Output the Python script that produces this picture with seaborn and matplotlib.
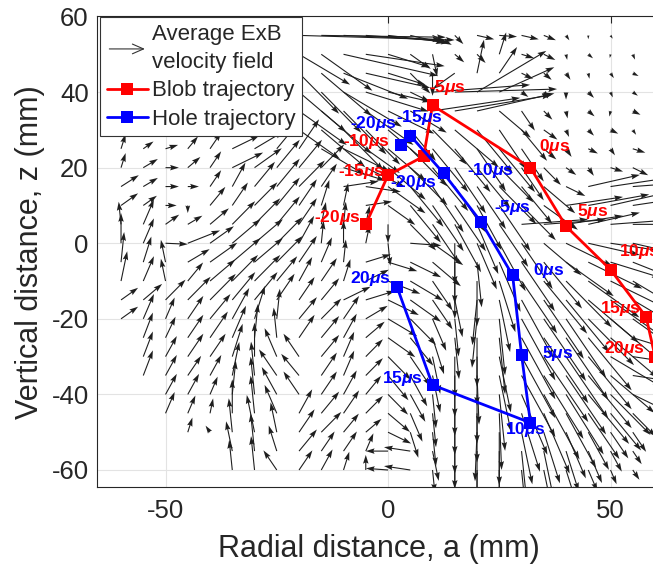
import numpy as np
import pandas as pd
import matplotlib
matplotlib.use("Agg")
import matplotlib.pyplot as plt
import seaborn as sns
from matplotlib.legend_handler import HandlerBase
from matplotlib.patches import FancyArrowPatch
from matplotlib.lines import Line2D

# ---------------- data ----------------
FIELD_X = list(range(-60, 61, 5))          # radial grid (mm)
FIELD_Y = list(range(55, -61, -5))         # vertical grid (mm), top row first

# arrow direction (deg, 0 = +x, 90 = +z) and arrow length (mm on plot), read row by row
FIELD_ANG = [
    [0,0,0,0,0,0,0,0,-2,-1,-3,-5,-8,-15,-30,-50,-15,-5,-15,-25,-60,-90,-60,0,0],
    [0,0,0,0,0,0,0,0,-35,-40,-15,-10,-20,-40,-80,-45,-50,75,-20,-30,-80,-45,-100,-70,-60],
    [0,0,0,0,0,0,0,0,-50,-45,-25,-15,-20,-50,-90,-140,80,60,-30,-45,-60,-80,-60,-30,-50],
    [0,0,0,0,0,0,0,0,-45,-50,-35,-20,-15,-30,5,2,35,28,-40,-60,-90,-50,-70,-40,-90],
    [0,0,0,0,0,0,0,0,-40,-45,-50,-40,-30,-35,10,11,15,-45,-60,-50,-80,-45,-100,-30,-60],
    [0,0,0,0,0,0,0,0,-40,-45,-50,-50,-45,-55,-50,-45,-55,-60,-55,-40,-70,-50,-30,-60,-45],
    [75,40,20,55,60,30,35,55,60,-35,-30,-40,-45,-50,-55,-55,-60,-55,-60,-45,-60,-30,-60,-20,-40],
    [75,35,0,45,60,30,40,55,55,50,-20,-30,-45,-50,-55,-60,-55,-50,-60,-50,-40,-60,-20,-30,-10],
    [37,35,0,0,60,65,55,55,50,60,10,-10,-40,-55,-60,-60,-60,-50,-55,-45,-30,15,10,5,0],
    [40,40,0,-90,55,60,50,55,60,75,80,10,-40,-55,-60,-60,-65,-60,-50,-40,10,12,15,10,5],
    [95,70,40,35,45,50,50,55,60,80,85,80,-90,-50,-60,-65,-70,-60,5,5,10,15,5,0,-10],
    [90,70,-3,25,40,45,45,50,65,85,90,80,-85,-5,-40,-90,-70,-65,-60,-45,-30,-15,-10,-15,-20],
    [85,75,100,35,40,45,45,50,60,70,85,20,-20,-30,-45,-90,-85,-70,-60,-55,-40,-30,-20,-25,-30],
    [80,70,100,55,45,50,50,55,65,60,75,30,-25,-35,-60,-90,-90,-75,-60,-55,-50,-40,-30,-35,-40],
    [40,45,50,50,50,55,55,60,60,55,30,20,-30,-40,-60,-80,-95,-80,-65,-60,-55,-45,-40,-35,-30],
    [40,70,70,60,55,65,75,85,55,50,60,35,-35,-50,-70,-85,-95,-85,-65,-60,-60,-50,-45,-40,-35],
    [0,72,68,60,60,70,85,95,60,55,65,45,-40,-55,-75,-85,-90,-85,-65,-60,-60,-55,-45,-20,-10],
    [0,72,65,60,60,75,90,110,120,55,70,50,-50,-60,-80,-90,-90,-80,-65,-60,-60,-55,-35,-10,-5],
    [0,72,65,60,65,80,95,120,125,60,70,50,-55,-65,-80,-90,-88,-80,-65,-62,-60,-55,-45,-10,0],
    [0,0,65,65,70,85,95,115,120,60,65,55,-50,-65,-85,-90,-90,-85,-70,-65,-62,-55,-50,-30,-20],
    [0,0,70,70,80,90,95,110,65,55,60,50,-45,-70,-85,-90,-90,-88,-75,-70,-65,-60,-55,-50,-40],
    [0,0,0,75,120,95,100,100,60,50,55,45,-30,-75,-85,-90,-92,-90,-80,-75,-70,-65,-60,-60,-50],
    [0,0,0,0,0,100,95,105,55,60,60,70,180,170,-80,-90,-90,-90,-85,-80,-75,-70,-65,-60,-60],
    [0,0,0,0,0,95,95,120,60,65,75,90,175,170,-85,-90,-90,-90,-85,-80,-75,-70,-70,-60,-60],
]
FIELD_LEN = [
    [0,0,0,0,0,0,0,0,35,28,22,18,14,8,5,3,4,4,4,3,1.5,1,1,0,0],
    [0,0,0,0,0,0,0,0,14,15,22,18,10,6,6,3,3,6,3,3,1.5,1.5,1,1.5,1],
    [0,0,0,0,0,0,0,0,14,16,16,15,9,7,6,6.5,9,8,3,2.5,2,1.5,1.5,1.5,1],
    [0,0,0,0,0,0,0,0,15,14,16,15,10,5,22,23,19,14,2,2,2,2,1.5,1.5,1.5],
    [0,0,0,0,0,0,0,0,14,16,15,14,12,10,20,22,18,10,6,3,2,2,1.5,2,1.5],
    [0,0,0,0,0,0,0,0,12,14,14,12,12,10,12,14,14,12,10,4,2,2,2,1.5,1.5],
    [4,3,3,4,5,7,8,9,9,12,12,10,12,13,14,14,13,14,10,4,2.5,2.5,2,3,2],
    [4,4,3,4,5,8,8,9,9,8,10,10,12,13,14,14,13,12,10,6,3,2.5,3,4,4],
    [5,4,3,2.5,5,7,8,9,9,7,8,8,11,13,14,14,13,13,12,10,5,12,12,10,8],
    [5,4,2.5,2,6,7,8,9,8,7,6,6,8,12,14,14,13,14,12,10,13,14,12,10,8],
    [6,7,4,4,6,8,9,9,8,6,6,5,5,9,12,14,14,13,15,14,13,12,13,10,8],
    [8,7,5,8,7,9,9,9,8,6,6,5,6,7,9,11,13,14,14,12,12,12,13,12,10],
    [8,7,6,6,8,9,9,9,8,7,6,6,7,8,9,11,12,14,15,15,14,14,12,12,10],
    [8,7,6,6,8,9,9,8,7,7,6,6,8,9,9,10,12,14,16,17,16,15,14,13,12],
    [5,6,7,8,9,9,9,8,7,7,7,7,8,9,9,10,12,14,17,18,17,16,15,14,12],
    [5,7,6,7,8,9,9,8,7,7,7,6,8,9,9,10,13,15,18,19,18,16,15,14,12],
    [0,7,6,7,8,9,9,8,7,7,7,6,8,9,10,11,13,15,18,20,19,17,15,12,10],
    [0,7,6,7,7,9,9,8,7,7,7,6,8,9,10,11,13,15,18,20,19,17,14,12,10],
    [0,7,6,6,6,9,9,8,7,7,7,6,8,9,10,11,13,15,18,19,18,17,14,12,10],
    [0,0,6,6,5,9,10,8,7,7,7,6,7,8,9,11,13,15,17,19,18,16,14,10,8],
    [0,0,6,5,4,9,10,8,7,7,7,6,7,8,9,11,13,15,16,17,16,14,12,8,6],
    [0,0,0,4,2,9,10,8,7,7,6,5,6,7,9,11,13,14,14,14,13,11,8,6,4],
    [0,0,0,0,0,8,10,7,7,6,6,5,5,6,8,10,12,13,12,12,11,9,6,4,3],
    [0,0,0,0,0,8,9,6,6,6,5,4,5,6,6,8,10,10,9,8,7,6,4,3,2],
]

TIMES = [-20, -15, -10, -5, 0, 5, 10, 15, 20]          # microseconds
BLOB_X = [-5, 0, 8, 10, 32, 40, 50, 58, 60]
BLOB_Z = [5, 18, 23, 36.5, 20, 4.5, -7, -19.5, -30]
HOLE_X = [3, 5, 12.5, 21, 28, 30, 32, 10, 2]
HOLE_Z = [26, 28.5, 18.5, 5.5, -8.5, -29.5, -47.5, -37.5, -11.5]

X_TICKS = [-50, 0, 50]
Y_TICKS = [-60, -40, -20, 0, 20, 40, 60]

# ---------------- style ----------------
sns.set_theme(style="whitegrid")
plt.rcParams["font.family"] = ["Liberation Sans", "DejaVu Sans"]
plt.rcParams["axes.unicode_minus"] = False
plt.rcParams["mathtext.fontset"] = "custom"
plt.rcParams["mathtext.it"] = "Liberation Sans:italic:bold"
plt.rcParams["mathtext.rm"] = "Liberation Sans:bold"
plt.rcParams["mathtext.bf"] = "Liberation Sans:bold"

W, H = 653, 572
fig = plt.figure(figsize=(W / 100, H / 100), dpi=100)
ax = fig.add_axes([97 / W, 85 / H, 578.5 / W, 470.5 / H])
ax.set_facecolor("white")

# ---------------- vector field ----------------
gx, gy = np.meshgrid(FIELD_X, FIELD_Y)
ang = np.deg2rad(np.array(FIELD_ANG, dtype=float))
ln = np.array(FIELD_LEN, dtype=float)
U = ln * np.cos(ang)
V = ln * np.sin(ang)
m = ln > 0
q = ax.quiver(gx[m], gy[m], U[m], V[m], angles="xy", scale_units="xy", scale=1,
              color="#1e1e1e", units="dots", width=1.1, headwidth=5,
              headlength=8, headaxislength=7, zorder=2)

# ---------------- trajectories ----------------
blob = pd.DataFrame({"x": BLOB_X, "z": BLOB_Z, "t": TIMES})
hole = pd.DataFrame({"x": HOLE_X, "z": HOLE_Z, "t": TIMES})
for df, col in ((blob, "#ff0000"), (hole, "#0000ff")):
    sns.lineplot(data=df, x="x", y="z", sort=False, estimator=None, color=col,
                 linewidth=2.0, marker="s", markersize=8.5, markeredgewidth=0,
                 markeredgecolor=col, markerfacecolor=col, ax=ax, legend=False,
                 zorder=4)

def lab(t):
    return f"{t}$\\mu$s"

FS_TAG = 12.5
blob_off = [(-3.6, 4.8, "right"), (-2.7, 2.4, "right"), (-24.5, 10.5, "right"),
            (-2.7, 12.7, "left"), (6.3, 15.1, "left"), (8.1, 10.3, "left"),
            (5.8, 13, "left"), (-3.6, 6, "right"), (-7.2, 6, "right")]
for i, (dx, dy, ha) in enumerate(blob_off):
    ax.annotate(lab(TIMES[i]), (BLOB_X[i], BLOB_Z[i]), xytext=(dx, dy),
                textcoords="offset points", ha=ha, va="center", color="#ff0000",
                fontsize=FS_TAG, fontweight="bold", zorder=5)

hole_off = [(-3.1, 15.5, "right"), (6.6, 13.2, "center"), (17, 1.9, "left"),
            (8.9, 11.1, "left"), (14.4, 3.6, "left"), (14.4, 1, "left"),
            (-3.8, -4.8, "center"), (-6.8, 4.8, "right"), (-4.3, 6, "right")]
for i, (dx, dy, ha) in enumerate(hole_off):
    ax.annotate(lab(TIMES[i]), (HOLE_X[i], HOLE_Z[i]), xytext=(dx, dy),
                textcoords="offset points", ha=ha, va="center", color="#0000ff",
                fontsize=FS_TAG, fontweight="bold", zorder=5)
# second blue "-20us" tag seen under the -10us hole point
ax.annotate(lab(TIMES[0]), (HOLE_X[2], HOLE_Z[2]), xytext=(-5.3, -6.8),
            textcoords="offset points", ha="right", va="center", color="#0000ff",
            fontsize=FS_TAG, fontweight="bold", zorder=5)

# ---------------- axes ----------------
ax.set_xlim(-65.4, 64.6)
ax.set_ylim(-64.5, 60)
ax.set_xticks(X_TICKS)
ax.set_yticks(Y_TICKS)
ax.grid(True, color="#e3e3e3", linewidth=0.8)
ax.set_axisbelow(True)
for s in ax.spines.values():
    s.set_color("#262626")
    s.set_linewidth(0.8)
ax.tick_params(direction="in", length=5, width=0.8, top=True, right=True,
               labelsize=18.5, colors="#262626", labelcolor="#262626")
ax.tick_params(axis="x", pad=9)
ax.tick_params(axis="y", pad=6)
ax.set_xlabel("Radial distance, a (mm)", fontsize=22, color="#262626")
ax.set_ylabel("Vertical distance, z (mm)", fontsize=22, color="#262626")
ax.xaxis.set_label_coords((379 - 97) / 578.5, -0.1)
ax.yaxis.set_label_coords(-0.09, 0.5)

# ---------------- legend ----------------
class ArrowHandler(HandlerBase):
    def create_artists(self, legend, orig_handle, xdescent, ydescent, width,
                       height, fontsize, trans):
        y = height / 2 - ydescent
        a = FancyArrowPatch((-xdescent, y), (width - xdescent, y),
                            arrowstyle="->,head_length=0.8,head_width=0.35",
                            mutation_scale=10, lw=0.8, color="#333333",
                            transform=trans)
        return [a]

h_blob = Line2D([], [], color="#ff0000", lw=2, marker="s", ms=8.5, mew=0)
h_hole = Line2D([], [], color="#0000ff", lw=2, marker="s", ms=8.5, mew=0)
leg = ax.legend([q, h_blob, h_hole],
                ["Average ExB\nvelocity field", "Blob trajectory", "Hole trajectory"],
                handler_map={type(q): ArrowHandler()},
                loc="upper left", bbox_to_anchor=(0.005, 0.998), borderaxespad=0,
                fontsize=16, frameon=True, fancybox=False, framealpha=1,
                edgecolor="#333333", handlelength=1.85, handletextpad=0.2,
                labelspacing=0.32, borderpad=0.3)
leg.get_texts()[0].set_linespacing(1.45)
leg.get_frame().set_linewidth(0.8)
leg.set_zorder(10)

fig.savefig("out.png", dpi=100)
